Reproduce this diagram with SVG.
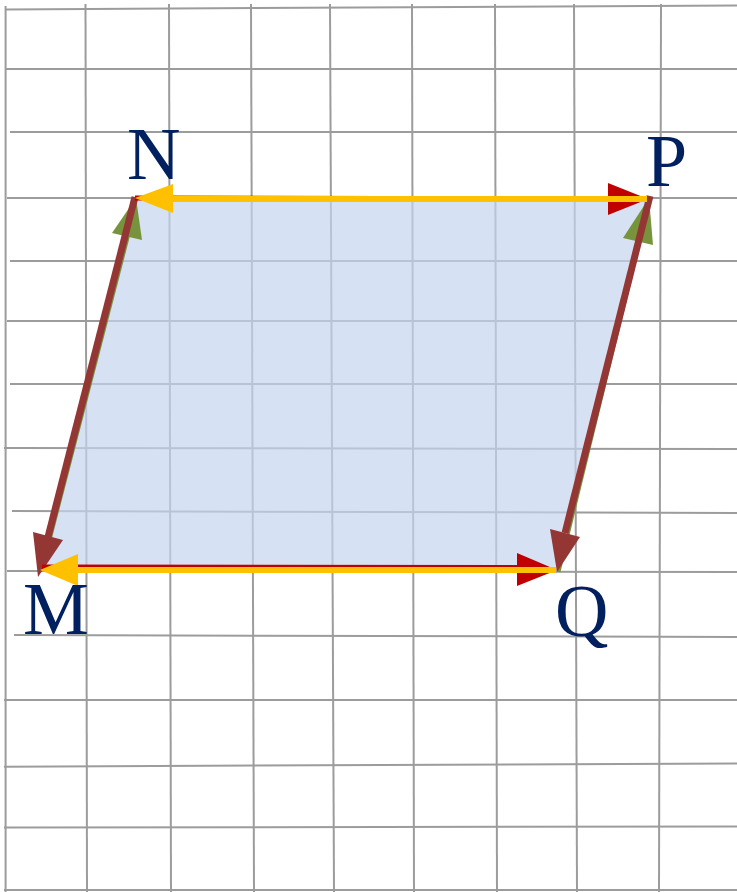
<svg xmlns="http://www.w3.org/2000/svg" width="737" height="892" viewBox="0 0 737 892">
<style>
.grid line{stroke:#9c9c9c;stroke-width:2}
.fill{fill:rgb(197,214,239);fill-opacity:0.7;stroke:none}
.green{stroke:#77933C;stroke-width:3;fill:none}
.greenH{fill:#77933C}
.brown{stroke:#943634;stroke-width:7;fill:none}
.brownH{fill:#943634}
.red{stroke:#C00000;stroke-width:5;fill:none}
.redH{fill:#C00000}
.yellow{stroke:#FFC000;stroke-width:6;fill:none}
.yellowH{fill:#FFC000}
.lbl{font-family:"Liberation Serif","Times New Roman",serif;font-size:74px;fill:#002060}
</style>
<rect width="737" height="892" fill="#ffffff"/>
<g class="grid" id="grid">
<line x1="5.6" y1="6" x2="5.6" y2="892"/>
<line x1="85.5" y1="4" x2="87" y2="892"/>
<line x1="169" y1="4" x2="171" y2="892"/>
<line x1="251" y1="4" x2="254" y2="892"/>
<line x1="330" y1="4" x2="334" y2="892"/>
<line x1="412" y1="4" x2="414" y2="892"/>
<line x1="495" y1="4" x2="497" y2="892"/>
<line x1="574" y1="4" x2="577" y2="892"/>
<line x1="661" y1="4" x2="659" y2="892"/>
<line x1="5" y1="9.4" x2="737" y2="5.6"/>
<line x1="6" y1="69" x2="737" y2="69"/>
<line x1="10" y1="132" x2="737" y2="132"/>
<line x1="7" y1="198" x2="737" y2="198"/>
<line x1="10" y1="261" x2="737" y2="261"/>
<line x1="7" y1="321" x2="737" y2="321"/>
<line x1="10" y1="384" x2="737" y2="384"/>
<line x1="4" y1="448" x2="737" y2="449"/>
<line x1="12" y1="511" x2="737" y2="513"/>
<line x1="7" y1="571" x2="737" y2="572"/>
<line x1="14" y1="635" x2="737" y2="637"/>
<line x1="4" y1="700" x2="737" y2="700"/>
<line x1="4" y1="766.7" x2="737" y2="763.5"/>
<line x1="4" y1="827.5" x2="737" y2="826.5"/>
<line x1="4" y1="890" x2="737" y2="890"/>
</g>
<g id="shape">
<polygon class="fill" points="40,571 136,199 650,199 557,571"/>
</g>
<g id="connectors">
<!-- M to N (green) -->
<line class="green" x1="42" y1="571" x2="130" y2="230"/>
<polygon class="greenH" points="136,198 112,233 142,240"/>
<!-- Q to P (green) -->
<line class="green" x1="559" y1="572" x2="641" y2="236"/>
<polygon class="greenH" points="649,198 623,238 653,245"/>
<!-- N to M (brown) -->
<line class="brown" x1="135" y1="197" x2="48" y2="537"/>
<polygon class="brownH" points="38,577 33,532 63,540"/>
<!-- P to Q (brown) -->
<line class="brown" x1="650" y1="196" x2="565" y2="533"/>
<polygon class="brownH" points="557,572 550,529 580,537"/>
<!-- N to P (red) -->
<line class="red" x1="135" y1="198" x2="612" y2="199"/>
<polygon class="redH" points="648,199 608,183 608,215"/>
<!-- M to Q (red) -->
<line class="red" x1="42" y1="567" x2="520" y2="567.5"/>
<polygon class="redH" points="557,570 517,553 517,586"/>
<!-- P to N (yellow) -->
<line class="yellow" x1="647" y1="199" x2="170" y2="199"/>
<polygon class="yellowH" points="135,198 173,184 173,213"/>
<!-- Q to M (yellow) -->
<line class="yellow" x1="556" y1="570" x2="75" y2="570"/>
<polygon class="yellowH" points="40,570 78,554 78,586"/>
</g>
<g id="node-N"><text class="lbl" x="127" y="179">N</text></g>
<g id="node-P"><text class="lbl" x="646" y="186">P</text></g>
<g id="node-M"><text class="lbl" x="23" y="634">M</text></g>
<g id="node-Q"><text class="lbl" x="555" y="636">Q</text></g>
</svg>
